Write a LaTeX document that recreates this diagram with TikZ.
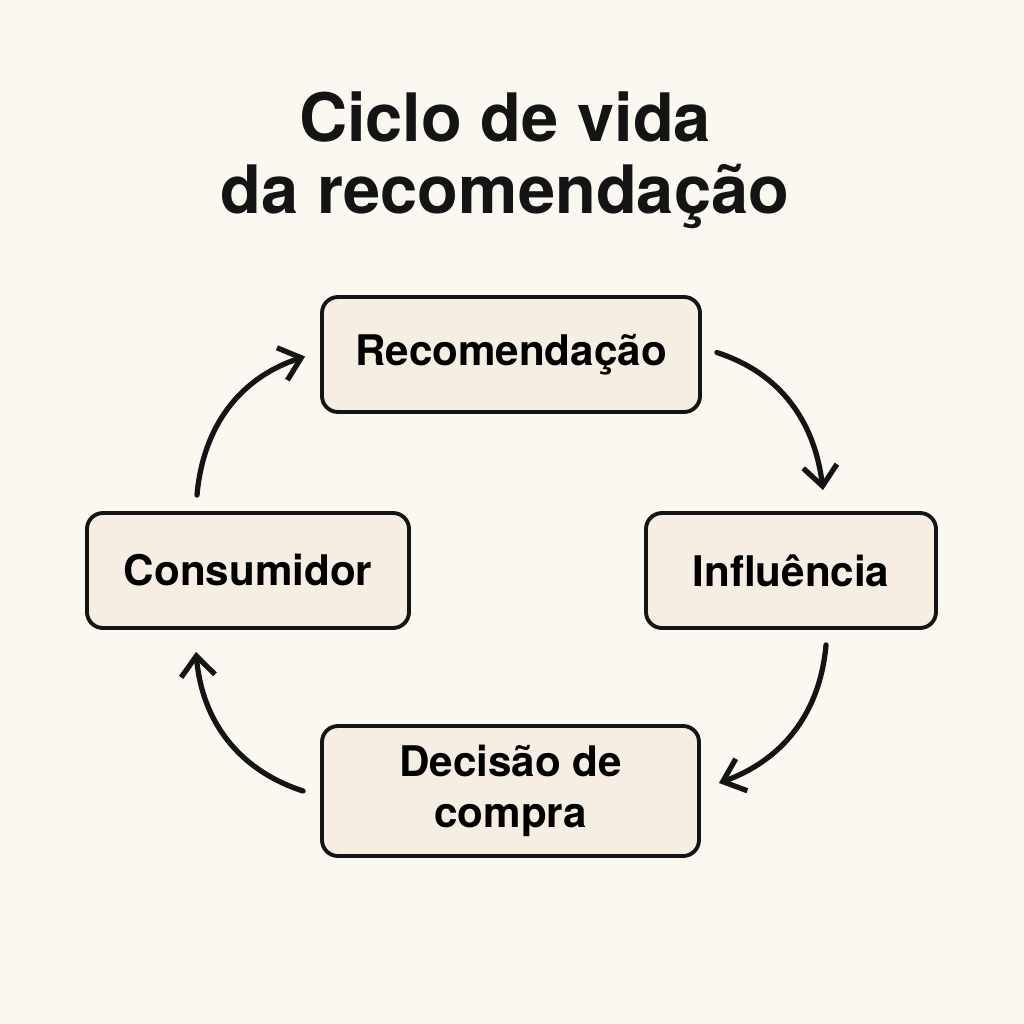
\documentclass[tikz,border=0pt]{standalone}
\usepackage{fontspec}
\setmainfont{TeX Gyre Heros}
\usepackage{tikz}
\usetikzlibrary{arrows.meta,positioning}
\definecolor{bgcol}{HTML}{FBF8F2}
\definecolor{boxcol}{HTML}{F6EEE3}
\definecolor{inkcol}{HTML}{141414}
\begin{document}
\begin{tikzpicture}[->,>={Straight Barb[length=2mm,width=3.4mm]},
  main node/.style={draw=inkcol, line width=1.1pt, fill=boxcol, rounded corners=0.16cm,
    minimum height=1.15cm, align=center, font=\bfseries\fontsize{12}{14.5}\selectfont},
  cyc/.style={color=inkcol, line width=1.5pt, line cap=round}]
      \useasboundingbox[fill=bgcol] (0,0) rectangle (10.24,-10.24);

      \node[inkcol, align=center, font=\bfseries\fontsize{19}{20.5}\selectfont] (0) at (5.05,-1.6) {Ciclo de vida\\da recomendação};

      \node[main node, minimum width=3.78cm] (1) at (5.11,-3.545) {Recomendação};
      \node[main node, minimum width=2.90cm] (3) at (7.91,-5.705) {Influência};
      \node[main node, minimum width=3.77cm, minimum height=1.30cm] (4) at (5.105,-7.91) {Decisão de\\compra};
      \node[main node, minimum width=3.22cm] (2) at (2.48,-5.705) {Consumidor};

      \path[cyc]
      ([xshift=1.5mm,yshift=0.2mm]1.east) edge [out=-18,in=97] ([shift={(3.2mm,2.1mm)}]3.north)
      ([shift={(3.5mm,-1.5mm)}]3.south) edge [out=-95,in=20] ([shift={(1.8mm,0.8mm)}]4.east)
      ([xshift=-1.7mm]4.west) edge [out=162,in=-85] ([shift={(-5.2mm,-2.2mm)}]2.south)
      ([shift={(-5.1mm,1.6mm)}]2.north) edge [out=85,in=198] ([shift={(-1.5mm,-0.2mm)}]1.west);

\end{tikzpicture}
\end{document}
